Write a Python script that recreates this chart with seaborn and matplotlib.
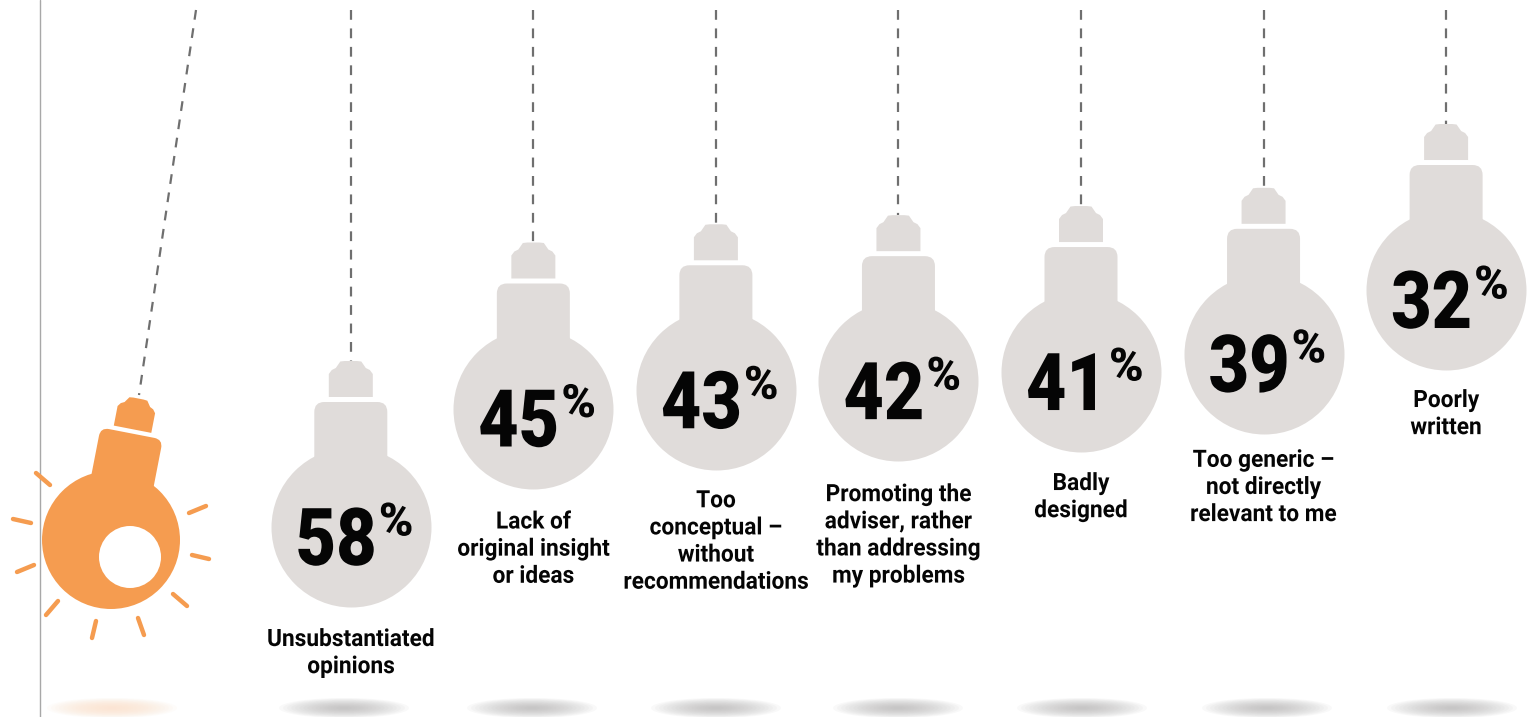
import numpy as np
import pandas as pd
import matplotlib
matplotlib.use("Agg")
import matplotlib.pyplot as plt
import matplotlib.patheffects as pe
from matplotlib.patches import PathPatch, Ellipse, Circle
from matplotlib.path import Path
from matplotlib.transforms import Affine2D
import seaborn as sns

# Survey results: share of respondents naming each flaw
labels = [
    "Unsubstantiated\nopinions",
    "Lack of\noriginal insight\nor ideas",
    "Too\nconceptual –\nwithout\nrecommendations",
    "Promoting the\nadviser, rather\nthan addressing\nmy problems",
    "Badly\ndesigned",
    "Too generic –\nnot directly\nrelevant to me",
    "Poorly\nwritten",
]
values = [58, 45, 43, 42, 41, 39, 32]

# Caption distance below each bulb centre, and floor-shadow positions, in px
caption_gaps = [101, 102, 99, 102, 100, 95, 99]
shadow_centres = [344, 532, 716, 898, 1082, 1267, 1452]

GREY = "#e0dcda"
ORANGE = "#f59c50"
DASH = "#6f6f6f"
W, H = 1530, 717
DPI = 100

sns.set_theme(style="white")
plt.rcParams["font.family"] = ["Roboto", "DejaVu Sans"]

fig = plt.figure(figsize=(W / DPI, H / DPI), dpi=DPI, facecolor="white")
ax = fig.add_axes([0, 0, 1, 1])

# Each percentage point hangs the bulb about 9.1 px lower
PX_PER_POINT = 9.115
X0, STEP = 350.8, 182.55
XLIM = ((0 - X0) / STEP, (W - X0) / STEP)
YLIM = (58 + (H - 527) / PX_PER_POINT, 58 - 527 / PX_PER_POINT)
ax.set_xlim(*XLIM)
ax.set_ylim(*YLIM)
ax.axis("off")

df = pd.DataFrame({"pos": range(len(values)), "value": values})


class Squeeze(pe.AbstractPathEffect):
    """Narrow the glyph outlines horizontally about a fixed x position."""

    def __init__(self, centre, factor):
        super().__init__()
        self.squeeze = Affine2D().translate(-centre, 0).scale(factor, 1).translate(centre, 0)

    def draw_path(self, renderer, gc, tpath, affine, rgbFace=None):
        renderer.draw_path(gc, tpath, affine + self.squeeze, rgbFace)


def px(x, y):
    """Convert a pixel measured from the top-left corner to display space."""
    return x, H - y


def rounded_neck():
    w, top, base, r = 36.5, 125, 60, 10
    verts = [(-w, base), (-w, top - r), (-w, top), (-w + r, top),
             (w - r, top), (w, top), (w, top - r), (w, base), (-w, base)]
    codes = [Path.MOVETO, Path.LINETO, Path.CURVE3, Path.CURVE3,
             Path.LINETO, Path.CURVE3, Path.CURVE3, Path.LINETO, Path.CLOSEPOLY]
    return Path(verts, codes)


def lamp_cap():
    verts = [(-22, 130), (-22, 153), (-19, 157), (-15, 159), (-10.5, 165.5),
             (-6, 166), (6, 166), (10.5, 165.5), (15, 159), (19, 157),
             (22, 153), (22, 130), (-22, 130)]
    codes = [Path.MOVETO] + [Path.LINETO] * 11 + [Path.CLOSEPOLY]
    return Path(verts, codes)


def draw_bulb(cx, cy, color, scale=1.0, tilt=0.0):
    """Neck and cap in a bulb-local frame, placed at a display-space centre."""
    tr = Affine2D().scale(scale).rotate_deg(tilt).translate(cx, cy)
    for path in (rounded_neck(), lamp_cap()):
        ax.add_patch(PathPatch(path, facecolor=color, edgecolor="none",
                               transform=tr, zorder=3))


def draw_shadow(cx, color, alpha, steps=16):
    for k in range(steps):
        f = 1 - k / steps
        ax.add_patch(Ellipse(px(cx, 708), 130 * f, 20 * f, facecolor=color,
                             edgecolor="none", alpha=alpha,
                             transform=Affine2D(), zorder=1))


# Left rule
ax.plot([39.5, 39.5], [0, H], color="#a8a8a8", lw=1.0,
        transform=Affine2D(), zorder=1)

# Cords from the top edge down to each grey bulb
fig.canvas.draw()
for pos, val, sx in zip(df["pos"], df["value"], shadow_centres):
    cx, cy = ax.transData.transform((pos, val))
    ax.plot([cx, cx], [H - 10, cy + 166], color=DASH, lw=1.6,
            dashes=(4.4, 3.9), transform=Affine2D(), zorder=2)
    draw_bulb(cx, cy, GREY)
    draw_shadow(sx, "#b5b4b4", 0.075)

# Globes are sized in points: 160 px across at 100 dpi
sns.scatterplot(data=df, x="pos", y="value", s=(160 * 72 / DPI) ** 2,
                color=GREY, linewidth=0, legend=False, ax=ax, zorder=4,
                clip_on=False)
ax.set_xlabel("")
ax.set_ylabel("")

# Value inside the globe and caption beneath it
for pos, val, lab, gap in zip(df["pos"], df["value"], labels, caption_gaps):
    cx, cy = ax.transData.transform((pos, val))
    ax.text(cx + 26, cy - 8, str(val), transform=Affine2D(), ha="right",
            va="center_baseline", fontsize=57.5, fontweight="black",
            color="#050505", zorder=5,
            path_effects=[Squeeze(cx + 26, 0.875)])
    ax.text(cx + 28, cy + 9, "%", transform=Affine2D(), ha="left",
            va="center_baseline", fontsize=33, fontweight="black",
            color="#050505", zorder=5,
            path_effects=[Squeeze(cx + 28, 1.02)])
    ax.text(cx, cy - gap, lab, transform=Affine2D(), ha="center", va="top",
            fontsize=17.2, fontweight="bold", color="#050505",
            linespacing=1.23, zorder=5, path_effects=[Squeeze(cx, 0.95)])

# The lit bulb on the left, swinging out on its cord
LIT = (111, 540)
lit_x, lit_y = px(*LIT)
ax.plot([196, 139], [H - 10, H - 395], color=DASH, lw=1.6, dashes=(4.4, 3.9),
        transform=Affine2D(), zorder=2)
draw_bulb(lit_x, lit_y, ORANGE, scale=0.868, tilt=-11)
ax.add_patch(Circle((lit_x, lit_y), 69, facecolor=ORANGE, edgecolor="none",
                    transform=Affine2D(), zorder=4))
ax.add_patch(Circle(px(130, 557), 31, facecolor="white", edgecolor="none",
                    transform=Affine2D(), zorder=5))
draw_shadow(112, "#fbe3cf", 0.1)

rays = [((36, 473), (50, 485)), ((13, 519), (31, 523)), ((17, 572), (34, 565)),
        ((46, 615), (58, 601)), ((92, 638), (96, 621)), ((144, 635), (138, 618)),
        ((187, 606), (173, 594)), ((192, 555), (209, 559)), ((189, 513), (206, 506))]
for a, b in rays:
    ax.plot([a[0], b[0]], [H - a[1], H - b[1]], color=ORANGE, lw=3.2,
            solid_capstyle="round", transform=Affine2D(), zorder=3)

ax.set_xlim(*XLIM)
ax.set_ylim(*YLIM)
fig.savefig("out.png", dpi=DPI, facecolor="white")
